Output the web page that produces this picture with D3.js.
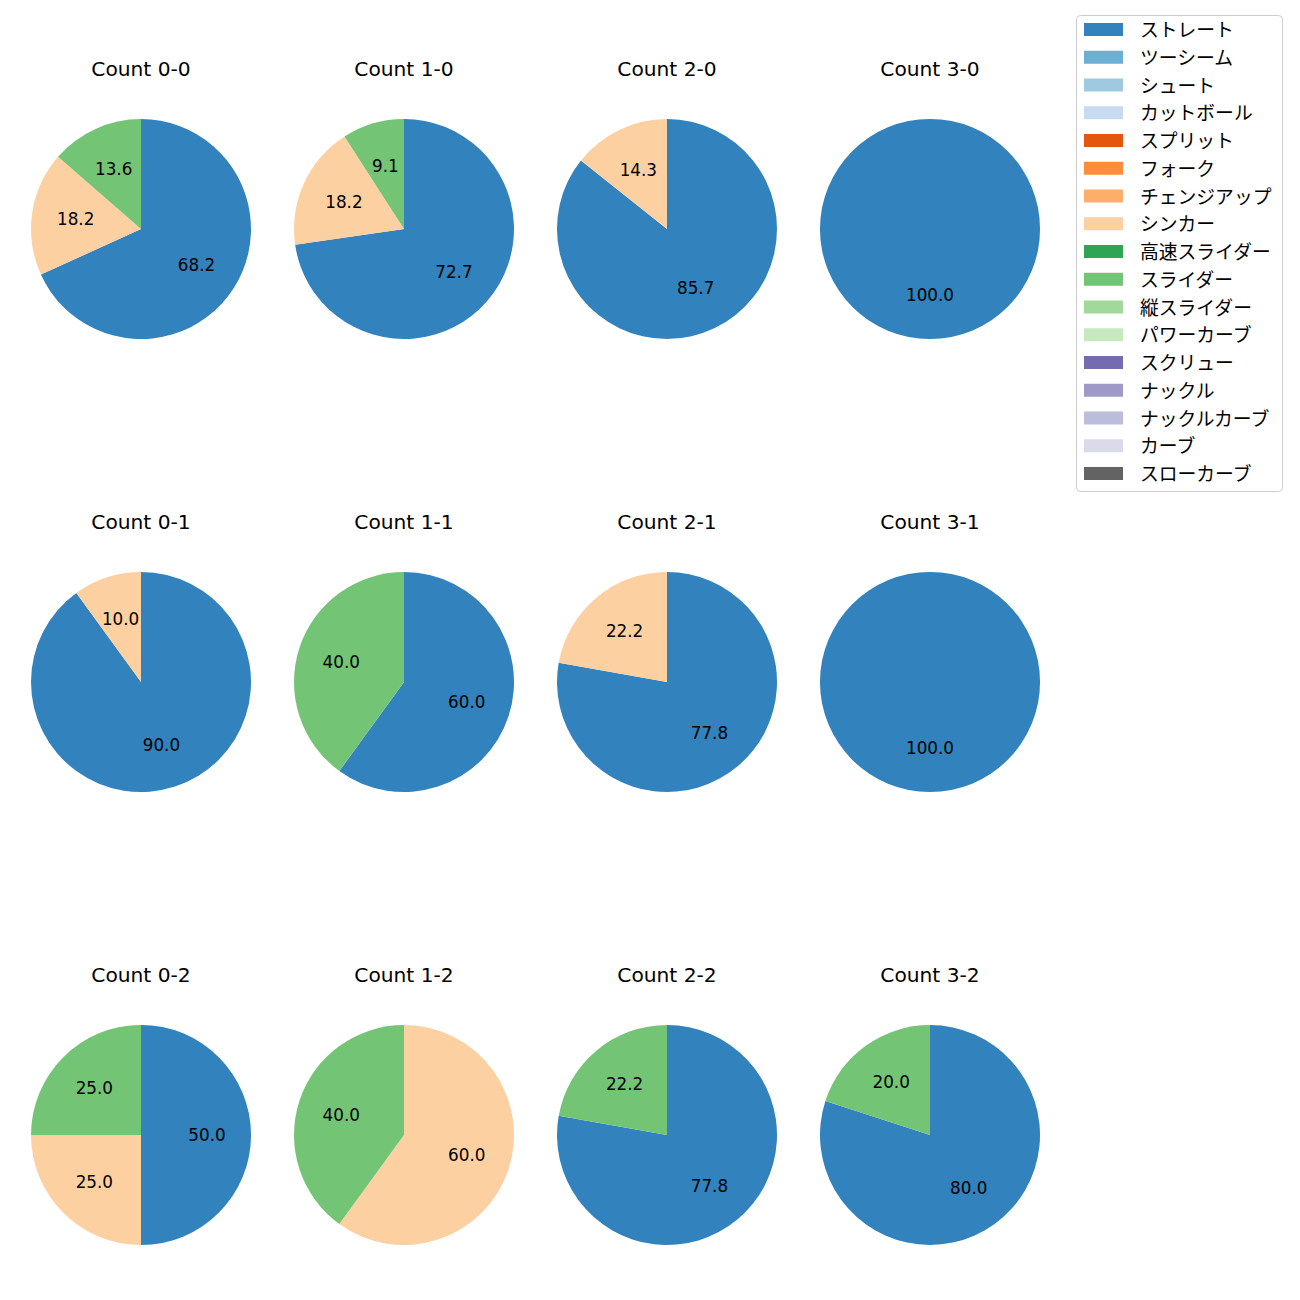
<!DOCTYPE html>
<html><head><meta charset="utf-8">
<script src="https://cdn.jsdelivr.net/npm/d3@7"></script>
<style>body{margin:0;background:#fff;} svg{display:block;}</style>
</head><body>
<svg id="chart" width="1300" height="1300"></svg>
<script>
const pitchTypes = ["ストレート","ツーシーム","シュート","カットボール","スプリット","フォーク","チェンジアップ","シンカー","高速スライダー","スライダー","縦スライダー","パワーカーブ","スクリュー","ナックル","ナックルカーブ","カーブ","スローカーブ"];
const pitchColors = ["#3182bd","#6baed6","#9ecae1","#c6dbef","#e6550d","#fd8d3c","#fdae6b","#fdd0a2","#31a354","#74c476","#a1d99b","#c7e9c0","#756bb1","#9e9ac8","#bcbddc","#dadaeb","#636363"];
const counts = ["0-0","1-0","2-0","3-0","0-1","1-1","2-1","3-1","0-2","1-2","2-2","3-2"];
// percentages per count: [ストレート, シンカー, スライダー]
const straight = [68.2, 72.7, 85.7, 100, 90.0, 60.0, 77.8, 100, 50.0, 0, 77.8, 80.0];
const sinker   = [18.2, 18.2, 14.3, 0, 10.0, 0, 22.2, 0, 25.0, 60.0, 0, 0];
const slider   = [13.6, 9.1, 0, 0, 0, 40.0, 0, 0, 25.0, 40.0, 22.2, 20.0];

const svg = d3.select("#chart");
const latin = "'DejaVu Sans',sans-serif";
const jp = "'Noto Sans CJK JP','Noto Sans',sans-serif";
const R = 110;
const colX = d3.scalePoint().domain([0,1,2,3]).range([141, 930]);
const rowY = d3.scalePoint().domain([0,1,2]).range([229, 1135]);
const color = d3.scaleOrdinal().domain(pitchTypes).range(pitchColors);
const pie = d3.pie().sort(null).value(d => d.v);
const arc = d3.arc().innerRadius(0).outerRadius(R);
const labelArc = d3.arc().innerRadius(R*0.6).outerRadius(R*0.6);

counts.forEach((c, i) => {
  const data = pitchTypes.map(p => {
    let v = 0;
    if (p === "ストレート") v = straight[i];
    else if (p === "シンカー") v = sinker[i];
    else if (p === "スライダー") v = slider[i];
    return {p, v};
  }).filter(d => d.v > 0);
  const g = svg.append("g").attr("transform", `translate(${colX(i%4)},${rowY(Math.floor(i/4))})`);
  g.append("text").attr("x", 0).attr("y", -160).attr("text-anchor","middle")
    .attr("dominant-baseline","central").attr("font-family", latin).attr("font-size", 20.2)
    .attr("fill","#000").text("Count " + c);
  const arcs = pie(data);
  g.selectAll("path.s").data(arcs).join("path").attr("class","s")
    .attr("d", arc).attr("fill", d => color(d.data.p));
  g.selectAll("text.l").data(arcs).join("text").attr("class","l")
    .attr("transform", d => `translate(${labelArc.centroid(d)})`)
    .attr("text-anchor","middle").attr("dominant-baseline","central")
    .attr("font-family", latin).attr("font-size", 16.8).attr("fill","#000")
    .text(d => d.data.v.toFixed(1));
});

// legend
const lg = svg.append("g");
lg.append("rect").attr("x",1076.5).attr("y",15.5).attr("width",206).attr("height",476)
  .attr("rx",4).attr("fill","#fff").attr("stroke","#cccccc").attr("stroke-width",1);
const ly = d3.scaleLinear().domain([0,16]).range([29.5, 473.5]);
pitchTypes.forEach((p, i) => {
  lg.append("rect").attr("x",1084).attr("y",ly(i)-6.5).attr("width",39).attr("height",13).attr("fill",color(p));
  lg.append("text").attr("x",1140).attr("y",ly(i)-1).attr("dominant-baseline","central")
    .attr("font-family",jp).attr("font-size",18.8).attr("fill","#000").text(p);
});
</script>
</body></html>
